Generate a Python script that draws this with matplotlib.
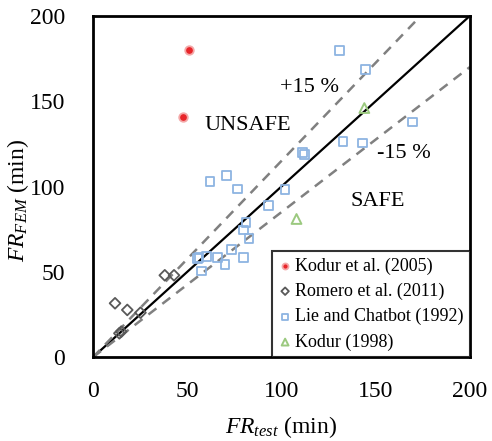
import numpy as np
import matplotlib
matplotlib.use('Agg')
import matplotlib.pyplot as plt

plt.rcParams['font.family'] = 'Liberation Serif'
plt.rcParams['mathtext.fontset'] = 'custom'
plt.rcParams['mathtext.rm'] = 'Liberation Serif'
plt.rcParams['mathtext.it'] = 'Liberation Serif:italic'

# data (FR_test, FR_FEM) in minutes
kodur2005_x = [51, 48]
kodur2005_y = [180, 141]

romero_x = [11.7, 18.2, 25.2, 38.1, 43, 14, 15]
romero_y = [31.6, 27.7, 26.1, 48, 48, 14, 15]

lie_x = [131, 144.7, 169.4, 132.7, 143, 111.1, 112.4, 70.8, 62.1, 76.8, 101.9,
         93.1, 81.2, 80, 82.8, 73.6, 56.3, 60.2, 66.2, 80, 70.1, 57.7, 55.4]
lie_y = [179.5, 168.8, 137.8, 126.3, 125.5, 119.9, 118.7, 106.6, 103.1, 98.6, 98.1,
         89.1, 79.1, 74.5, 69.4, 63.2, 58.3, 58.9, 58.5, 58.3, 54.4, 50.5, 57.9]

kodur1998_x = [144, 108]
kodur1998_y = [146, 81]

fig = plt.figure(figsize=(4.92, 4.41), dpi=100)
ax = fig.add_axes([0.189, 0.19, 0.766, 0.774])

xs = np.array([0, 200])
ax.plot(xs, xs, color='black', lw=1.6, zorder=2)
ax.plot(xs, 1.15 * xs, color='#808080', lw=1.8, ls=(0, (4, 3)), zorder=2)
ax.plot(xs, 0.85 * xs, color='#808080', lw=1.8, ls=(0, (4, 3)), zorder=2)

ax.scatter(kodur2005_x, kodur2005_y, s=38, color='#e8252a', edgecolors='#f4a8a8',
           linewidths=1.3, label='Kodur et al. (2005)', zorder=3)
ax.scatter(romero_x, romero_y, s=30, marker='D', facecolors='none', edgecolors='#595959',
           linewidths=1.3, label='Romero et al. (2011)', zorder=3)
ax.scatter(lie_x, lie_y, s=40, marker='s', facecolors='none', edgecolors='#8db4e2',
           linewidths=1.3, label='Lie and Chatbot (1992)', zorder=3)
ax.scatter(kodur1998_x, kodur1998_y, s=50, marker='^', facecolors='none', edgecolors='#9bc97f',
           linewidths=1.4, label='Kodur (1998)', zorder=3)

ax.text(115, 158, '+15 %', fontsize=16, ha='center', va='center')
ax.text(82, 135.5, 'UNSAFE', fontsize=16, ha='center', va='center')
ax.text(165, 119.6, '-15 %', fontsize=16, ha='center', va='center')
ax.text(151, 91, 'SAFE', fontsize=16, ha='center', va='center')

ax.set_xlim(0, 200)
ax.set_ylim(0, 200)
ax.set_xticks([0, 50, 100, 150, 200])
ax.set_yticks([0, 50, 100, 150, 200])
ax.tick_params(length=0, labelsize=17)
ax.tick_params(axis='y', pad=20)
ax.tick_params(axis='x', pad=17)
for sp in ax.spines.values():
    sp.set_linewidth(2)

ax.set_xlabel(r'$FR_{test}$ (min)', fontsize=17, labelpad=9)
ax.set_ylabel(r'$FR_{FEM}$ (min)', fontsize=17)
ax.yaxis.set_label_coords(-0.165, 0.46)

leg = ax.legend(loc='lower right', fontsize=13, frameon=True, fancybox=False,
                borderaxespad=0, handletextpad=0.15, handlelength=0.8,
                borderpad=0.35, labelspacing=0.45, markerscale=0.7)
leg.get_frame().set_edgecolor('black')
leg.get_frame().set_linewidth(1.5)

fig.savefig('out.png', dpi=100)
